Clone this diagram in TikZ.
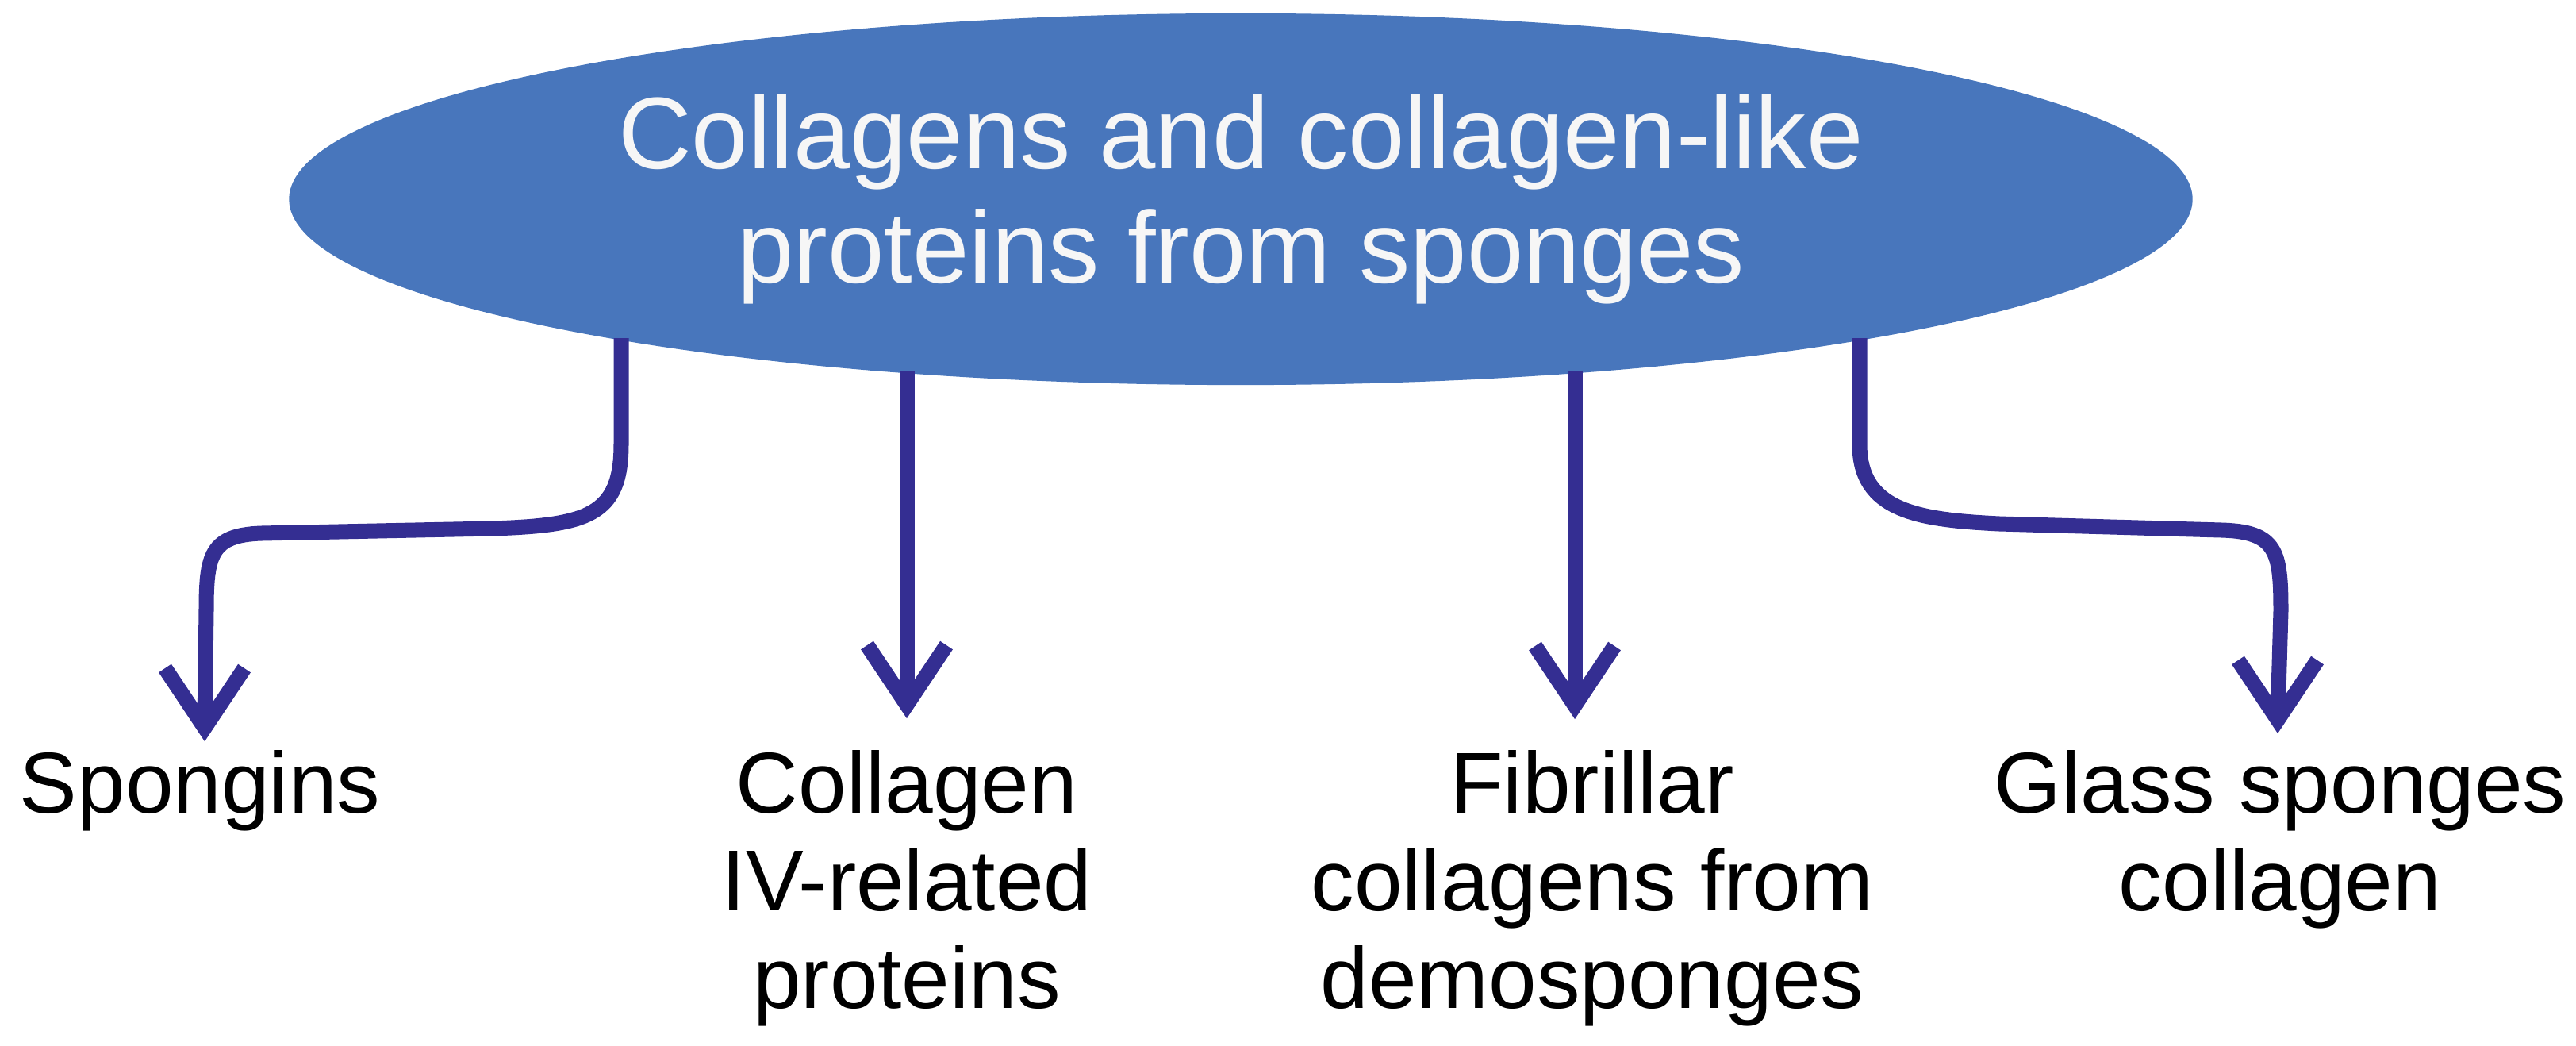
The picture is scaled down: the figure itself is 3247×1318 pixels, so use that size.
\documentclass[tikz,border=0pt]{standalone}
\usepackage{fontspec}
\setmainfont{Liberation Sans}
\usetikzlibrary{shapes.geometric,calc}
\definecolor{ellblue}{RGB}{72,118,188}
\definecolor{arrowind}{RGB}{52,46,146}
\definecolor{offwhite}{RGB}{246,246,246}
\tikzset{
  mainell/.style={ellipse, fill=ellblue, draw=none, minimum width=23.98cm, minimum height=4.68cm,
    inner sep=0pt, align=center, text=offwhite, font=\fontsize{36.5}{41}\selectfont},
  lbl/.style={anchor=north, align=center, inner sep=0pt, font=\fontsize{31}{35}\selectfont, text=black},
  conn/.style={draw=arrowind, line width=0.19cm, line cap=butt, line join=round},
  headv/.style={draw=arrowind, line width=0.19cm, line cap=butt, line join=miter, miter limit=10},
}
\begin{document}
\begin{tikzpicture}[x=0.01cm,y=-0.01cm]
\useasboundingbox (0,0) rectangle (3247,1318);
\node[mainell] (ell) at (1564,251) {Collagens and collagen-like\\proteins from sponges};

\coordinate (t1) at (258,917);
\coordinate (t2) at (1143,888);
\coordinate (t3) at (1985,889);
\coordinate (t4) at (2871,907);

\node[lbl] (spong) at (252,945) {Spongins};
\node[lbl] (coliv) at (1143,945) {Collagen\\IV-related\\proteins};
\node[lbl] (fibr) at (2007,945) {Fibrillar\\collagens from\\demosponges};
\node[lbl] (glass) at (2874,945) {Glass sponges\\collagen};

\path[conn] ($(ell.center)+(-781,175)$) -- (783,560) .. controls (783,650) and (740,662) .. (620,666)
  -- (330,672) .. controls (265,674) and (260,700) .. (260,770) -- (t1);
\path[conn] ($(ell.center)+(-421,216)$) -- (t2);
\path[conn] ($(ell.center)+(421,216)$) -- (t3);
\path[conn] ($(ell.center)+(780,175)$) -- (2344,560) .. controls (2344,645) and (2420,655) .. (2520,660)
  -- (2800,668) .. controls (2870,670) and (2875,695) .. (2875,770) -- (t4);

\foreach \t in {t1,t2,t3,t4}{
  \path[headv] ($(\t)+(-50,-75)$) -- (\t) -- ($(\t)+(50,-75)$);
}
\end{tikzpicture}
\end{document}
